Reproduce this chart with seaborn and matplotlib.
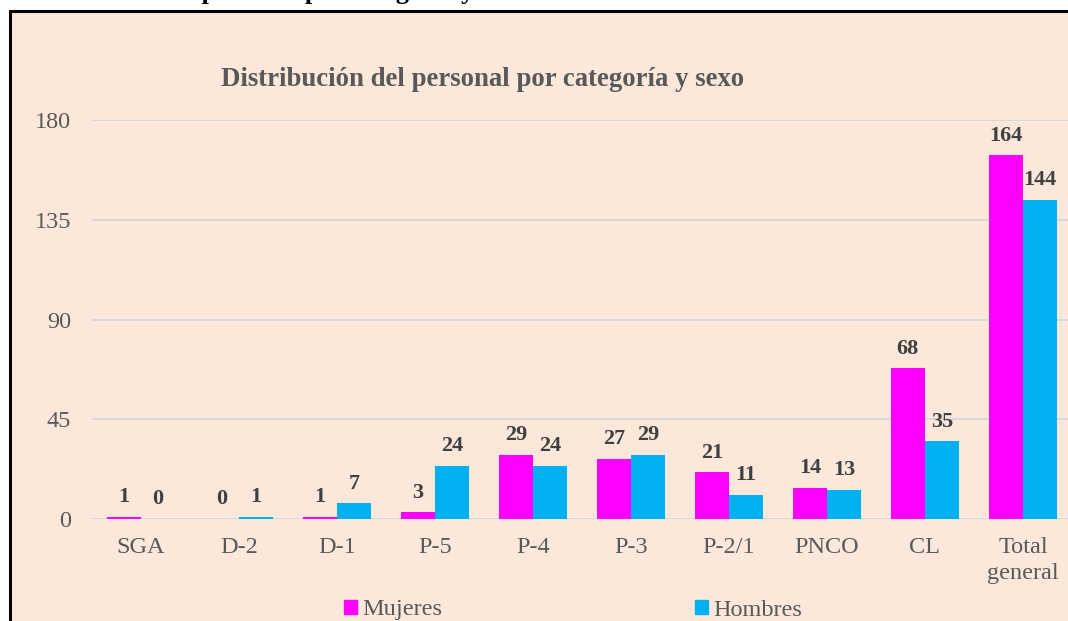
import matplotlib
matplotlib.use("Agg")
import matplotlib.pyplot as plt
import matplotlib.patches as mpatches
import pandas as pd
import seaborn as sns

categorias = ["SGA", "D-2", "D-1", "P-5", "P-4", "P-3", "P-2/1", "PNCO", "CL", "Total\ngeneral"]
mujeres = [1, 0, 1, 3, 29, 27, 21, 14, 68, 164]
hombres = [0, 1, 7, 24, 24, 29, 11, 13, 35, 144]
series = ["Mujeres", "Hombres"]
colores = ["#FF00FF", "#00B0F0"]
yticks = [0, 45, 90, 135, 180]

df = pd.DataFrame({
    "categoria": categorias * 2,
    "sexo": ["Mujeres"] * len(categorias) + ["Hombres"] * len(categorias),
    "valor": mujeres + hombres,
})

sns.set_theme(style="white")
plt.rcParams["font.family"] = ["Liberation Serif", "DejaVu Serif"]

peach = "#FCE8DB"
gris = "#595959"

fig = plt.figure(figsize=(10.68, 6.21), dpi=100, facecolor="white")
# box around the chart (cut off at right and bottom in the source)
fig.patches.append(mpatches.Rectangle((10 / 1068, -0.1), 1.2, 1.1 - 11 / 621,
                                      transform=fig.transFigure, facecolor=peach,
                                      edgecolor="black", linewidth=2.2, zorder=-5))
# caption of the document above the box, only its descenders are visible
fig.text(14 / 1068, 1 + 1 / 621, "Distribución del personal por categoría y sexo",
         ha="left", va="baseline", fontsize=19, fontweight="bold", color="black")

ax = fig.add_axes([92 / 1068, 1 - 519 / 621, 980 / 1068, 399 / 621])
ax.set_facecolor("none")

sns.barplot(data=df, x="categoria", y="valor", hue="sexo", hue_order=series,
            order=categorias, palette=colores, saturation=1, width=0.7, ax=ax,
            edgecolor="none", linewidth=0, legend=False)

for cont in ax.containers:
    ax.bar_label(cont, padding=7, fontsize=16, fontweight="bold", color="#404040")

ax.set_ylim(0, 180)
ax.set_yticks(yticks)
ax.set_xlabel("")
ax.set_ylabel("")
ax.yaxis.grid(True, color="#D9D9D9", linewidth=1.4)
ax.set_axisbelow(True)
for s in ax.spines.values():
    s.set_visible(False)
ax.tick_params(axis="y", length=0, pad=15, labelsize=17.5, labelcolor=gris)
ax.tick_params(axis="x", length=0, pad=13, labelsize=17.5, labelcolor=gris)
for lab in ax.get_xticklabels():
    lab.set_linespacing(1.3)

fig.text(483 / 1068, 1 - 79 / 621, "Distribución del personal por categoría y sexo",
         ha="center", va="center", fontsize=19.3, fontweight="bold", color=gris)

handles = [mpatches.Patch(color=c, label=s) for s, c in zip(series, colores)]
fig.legend(handles=handles, loc="center", bbox_to_anchor=(573 / 1068, 1 - 610 / 621),
           ncol=2, frameon=False, fontsize=17.5, labelcolor=gris,
           handlelength=0.55, handleheight=0.55, handletextpad=0.2, columnspacing=10.4)

fig.savefig("out.png", dpi=100, facecolor="white")
